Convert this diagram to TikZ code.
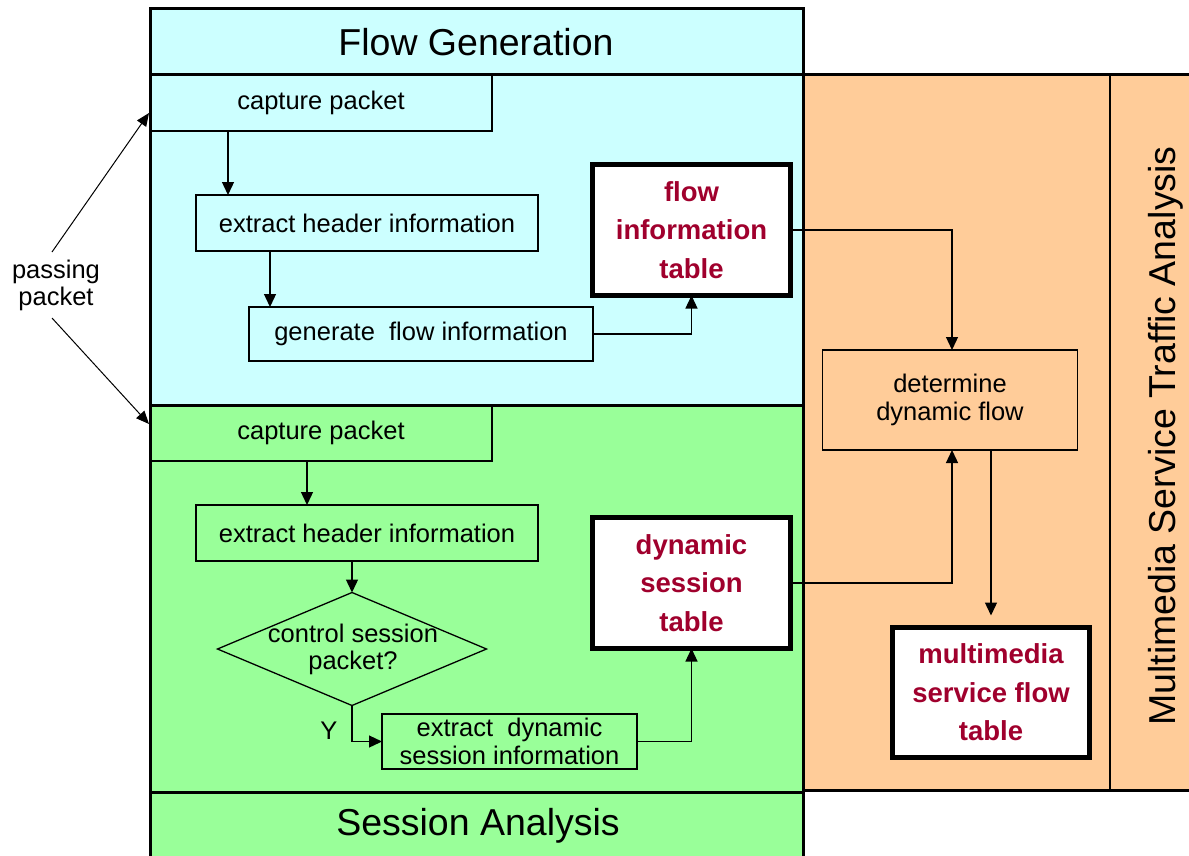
\documentclass[tikz,border=0pt]{standalone}
\usepackage{fontspec}
\setmainfont{Liberation Sans}
\usetikzlibrary{arrows.meta,shapes.geometric}

\definecolor{fgblue}{RGB}{204,255,255}
\definecolor{sagreen}{RGB}{153,255,153}
\definecolor{msorange}{RGB}{255,204,153}
\definecolor{tabred}{RGB}{160,0,45}

\begin{document}
\begin{tikzpicture}[x=1pt,y=-1pt,
  every node/.style={inner sep=0pt,outer sep=0pt},
  region/.style={line width=3pt},
  proc/.style={draw,line width=1.4pt,align=center,
    font=\fontsize{25.5pt}{28pt}\selectfont},
  tablebox/.style={draw,fill=white,line width=5pt,align=center,
    minimum width=198pt,minimum height=131pt,text=tabred,
    font=\fontsize{27.5pt}{38.5pt}\selectfont\bfseries},
  decision/.style={draw,diamond,line width=1.3pt,
    minimum width=269pt,minimum height=113pt},
  plain/.style={align=center,font=\fontsize{25.5pt}{27pt}\selectfont},
  title/.style={font=\fontsize{37.5pt}{40pt}\selectfont},
  conn/.style={draw,line width=1.3pt,-{Triangle[length=13pt,width=12pt]}},
  thinarrow/.style={draw,line width=1pt,-{Triangle[length=13pt,width=11pt]}}
]
\useasboundingbox (0,0) rectangle (1189,855);
\fill[white] (0,0) rectangle (1189,855);

% right-hand band: multimedia service traffic analysis
\fill[msorange] (803,74) rectangle (1189,790);
\draw[region] (803,74) -- (1189,74);
\draw[region] (803,790) -- (1189,790);
\draw[line width=2.5pt] (1110,74) -- (1110,790);
\node[title,rotate=90,anchor=base] (msta) at (1175,436)
  {Multimedia Service Traffic Analysis};

% flow generation band
\filldraw[fill=fgblue,region] (150,8) rectangle (803,405);
\draw[region] (150,74) -- (803,74);
\node[title] (fgt) at (476,42) {Flow Generation};

% session analysis band
\fill[sagreen] (150,405) rectangle (803,856);
\draw[region] (150,856) -- (150,405) -- (803,405) -- (803,856);
\draw[region] (150,792) -- (803,792);
\node[title] (sat) at (478,826) {Session Analysis};

% flow generation steps
\node[proc,minimum width=342pt,minimum height=57pt] (cap1) at (321,102.5) {capture packet};
\node[proc,minimum width=342pt,minimum height=56pt] (ext1) at (367,223) {extract header information};
\node[proc,minimum width=344pt,minimum height=54pt] (gen) at (421,334) {generate\ \ flow information};
\node[tablebox] (ftab) at (691.5,230) {flow\\information\\table};

% session analysis steps
\node[proc,minimum width=342pt,minimum height=56pt] (cap2) at (321,433) {capture packet};
\node[proc,minimum width=342pt,minimum height=56pt] (ext2) at (367,533) {extract header information};
\node[decision] (dia) at (352,649) {};
\node[plain] (dialbl) at (353,649) {control session\\packet?};
\node[proc,minimum width=255pt,minimum height=55pt] (exdyn) at (509.5,741.5) {extract\ \ dynamic\\session information};
\node[tablebox] (dtab) at (691.5,583) {dynamic\\session\\table};
\node[plain] (ylbl) at (329,731) {Y};

% analysis steps
\node[proc,minimum width=255pt,minimum height=100pt] (det) at (950,400) {determine\\dynamic flow};
\node[tablebox,minimum width=197pt,minimum height=130pt] (mtab) at (991,692.5) {multimedia\\service flow\\table};

% passing packet
\node[plain] (pp) at (56,285) {passing\\packet};
\coordinate (ppup) at (52,252);
\coordinate (ppdn) at (52,318);
\coordinate (fgin) at (149,113);
\coordinate (sain) at (149,424);
\draw[thinarrow] (ppup) -- (fgin);
\draw[thinarrow] (ppdn) -- (sain);

% flow generation connectors
\coordinate (a1) at ([xshift=32pt]ext1.north west);
\draw[conn] (a1 |- cap1.south) -- (a1);
\coordinate (a2) at ([xshift=21pt]gen.north west);
\draw[conn] (a2 |- ext1.south) -- (a2);
\draw[conn] (gen.east) -| (ftab.south);
\draw[conn] (ftab.east) -| ([xshift=2pt]det.north);

% session analysis connectors
\coordinate (a3) at ([xshift=111pt]ext2.north west);
\draw[conn] (a3 |- cap2.south) -- (a3);
\draw[conn] (dia.north |- ext2.south) -- (dia.north);
\draw[conn] (dia.south) |- (exdyn.west);
\draw[conn] (exdyn.east) -| (dtab.south);
\draw[conn] (dtab.east) -| ([xshift=2pt]det.south);

% analysis connector
\draw[conn,shorten >=12pt] (mtab.north |- det.south) -- (mtab.north);
\end{tikzpicture}
\end{document}
